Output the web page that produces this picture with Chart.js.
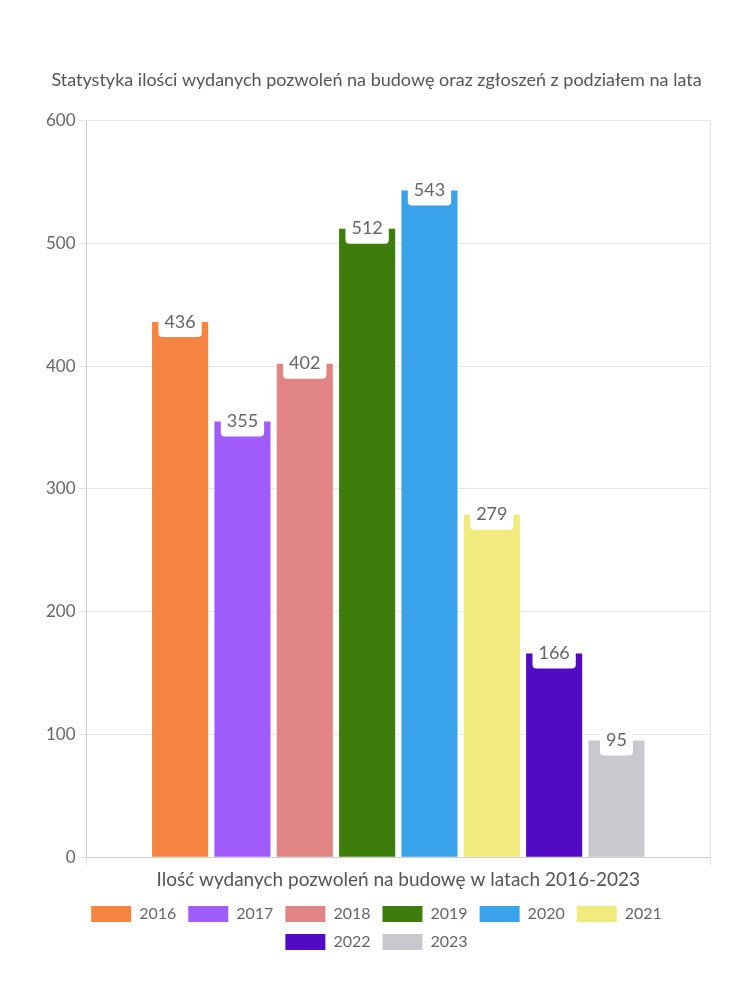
<!DOCTYPE html>
<html lang="pl">
<head>
  <meta charset="UTF-8" />
  <title>Statystyka pozwoleń na budowę</title>
  <script src="https://cdn.jsdelivr.net/npm/chart.js"></script>
  <style>
    body { margin: 0; background: #fff; }
    .wrap { width: 750px; height: 1000px; }
  </style>
</head>
<body>
  <div class="wrap"><canvas id="chart"></canvas></div>
  <script>
    const years = ["2016", "2017", "2018", "2019", "2020", "2021", "2022", "2023"];
    const counts = [436, 355, 402, 512, 543, 279, 166, 95];
    const colors = ["#F4843F", "#A15CFC", "#E08484", "#3E7C0C", "#38A3EA", "#F0EB7C", "#520AC4", "#C9C9CD"];
    const category = ["Ilość wydanych pozwoleń na budowę w latach 2016-2023"];
    const yTicks = [0, 100, 200, 300, 400, 500, 600];

    const font = "Lato, 'Open Sans', sans-serif";
    Chart.defaults.font.family = font;
    Chart.defaults.color = "#666";

    // white value boxes centred on the top of each bar
    const valueLabels = {
      id: "valueLabels",
      afterDatasetsDraw(chart) {
        const ctx = chart.ctx;
        ctx.save();
        ctx.font = "18px " + font;
        ctx.textAlign = "center";
        ctx.textBaseline = "middle";
        chart.data.datasets.forEach((ds, i) => {
          const meta = chart.getDatasetMeta(i);
          meta.data.forEach((bar, j) => {
            const txt = String(ds.data[j]);
            const w = ctx.measureText(txt).width + 12;
            const h = 30;
            ctx.fillStyle = "#fff";
            ctx.beginPath();
            ctx.roundRect(bar.x - w / 2, bar.y - h / 2, w, h, 4);
            ctx.fill();
            ctx.fillStyle = "#666";
            ctx.fillText(txt, bar.x, bar.y);
          });
        });
        ctx.restore();
      }
    };

    new Chart(document.getElementById("chart"), {
      type: "bar",
      data: {
        labels: category,
        datasets: years.map((y, i) => ({
          label: y,
          data: [counts[i]],
          backgroundColor: colors[i],
          borderWidth: 0
        }))
      },
      options: {
        responsive: true,
        maintainAspectRatio: false,
        animation: false,
        layout: { padding: { top: 69, left: 43, right: 40, bottom: 40 } },
        plugins: {
          title: {
            display: true,
            text: "Statystyka ilości wydanych pozwoleń na budowę oraz zgłoszeń z podziałem na lata",
            font: { size: 18, weight: "normal" },
            color: "#555",
            padding: { top: 0, bottom: 30 }
          },
          legend: {
            position: "bottom",
            labels: { boxWidth: 40, boxHeight: 16, font: { size: 16 }, padding: 12 }
          },
          tooltip: { enabled: false }
        },
        scales: {
          x: {
            grid: { color: "#e3e3e3" },
            ticks: { font: { size: 19 }, color: "#555" }
          },
          y: {
            min: 0,
            max: 600,
            afterBuildTicks: axis => { axis.ticks = yTicks.map(v => ({ value: v })); },
            grid: { color: "#e6e6e6" },
            ticks: { font: { size: 17 }, color: "#666" }
          }
        }
      },
      plugins: [valueLabels]
    });
  </script>
</body>
</html>
